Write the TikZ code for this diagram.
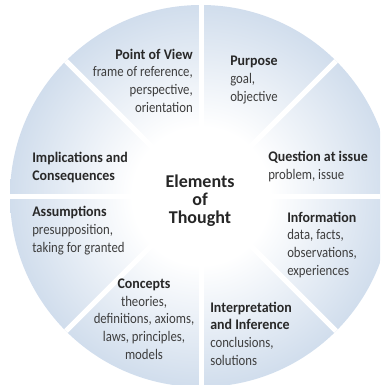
\documentclass[tikz,border=0pt]{standalone}
\usepackage{fontspec}
\setmainfont{Carlito}[FakeStretch=0.87, BoldFeatures={FakeStretch=0.95}]
\newfontfamily\widefont{Carlito}
\usepackage{tikz}
\usetikzlibrary{calc}
\usepackage{xcolor}
\definecolor{rimblue}{RGB}{163,186,216}
\definecolor{midblue}{RGB}{200,215,233}
\definecolor{inkgray}{RGB}{40,40,40}
\definecolor{subgray}{RGB}{62,62,62}
\pgfdeclareradialshading{thought}{\pgfpoint{0bp}{0bp}}{color(0bp)=(white); color(9bp)=(white); color(28bp)=(midblue); color(50bp)=(rimblue)}
\tikzstyle{element} = [inner sep=0pt, font=\fontsize{11}{13.2}\selectfont, text=subgray]
\tikzstyle{leftblock} = [element, anchor=base west, align=left]
\tikzstyle{rightblock} = [element, anchor=base east, align=right]
\tikzstyle{midblock} = [element, anchor=base, align=center]
\tikzstyle{divider} = [draw=white, line width=3.75pt]
\newcommand{\elhead}[1]{\textbf{\color{inkgray}#1}}

\begin{document}
\begin{tikzpicture}[x=0.75pt, y=-0.75pt]

        \useasboundingbox (0,0) rectangle (380,385);
        \coordinate (centre) at (201,196);

        \begin{scope}
            \clip (0,0) rectangle (380,385);
            \shade[shading=thought] (centre) circle[radius=143.25pt];
            \foreach \a in {0,45,...,315}
                \draw[divider] (centre) -- ++(\a:191);
        \end{scope}

        % blocks are placed by the baseline of their last line
        \node (view) [rightblock] at (193,112) {\elhead{Point of View}\\frame of reference,\\perspective,\\orientation};
        \node (purpose) [leftblock] at (230,101) {\elhead{Purpose}\\goal,\\objective};

        \node (implications) [leftblock] at (32,180) {\elhead{Implications and}\\\elhead{Consequences}};
        \node (question) [leftblock] at (268,179) {\elhead{Question at issue}\\problem, issue};

        \node (assumptions) [leftblock] at (32,252) {\elhead{Assumptions}\\presupposition,\\taking for granted};
        \node (information) [leftblock] at (287,275) {\elhead{Information}\\data, facts,\\observations,\\experiences};

        \node (concepts) [midblock] at (144,359) {\elhead{Concepts}\\theories,\\definitions, axioms,\\laws, principles,\\models};
        \node (interpretation) [leftblock] at (210,365) {\elhead{Interpretation}\\\elhead{and Inference}\\conclusions,\\solutions};

        \node (elements) [midblock, font=\widefont\bfseries\fontsize{13.5}{13.2}\selectfont, text=black!85] at (200,223) {Elements\\of\\Thought};

    \end{tikzpicture}
\end{document}
